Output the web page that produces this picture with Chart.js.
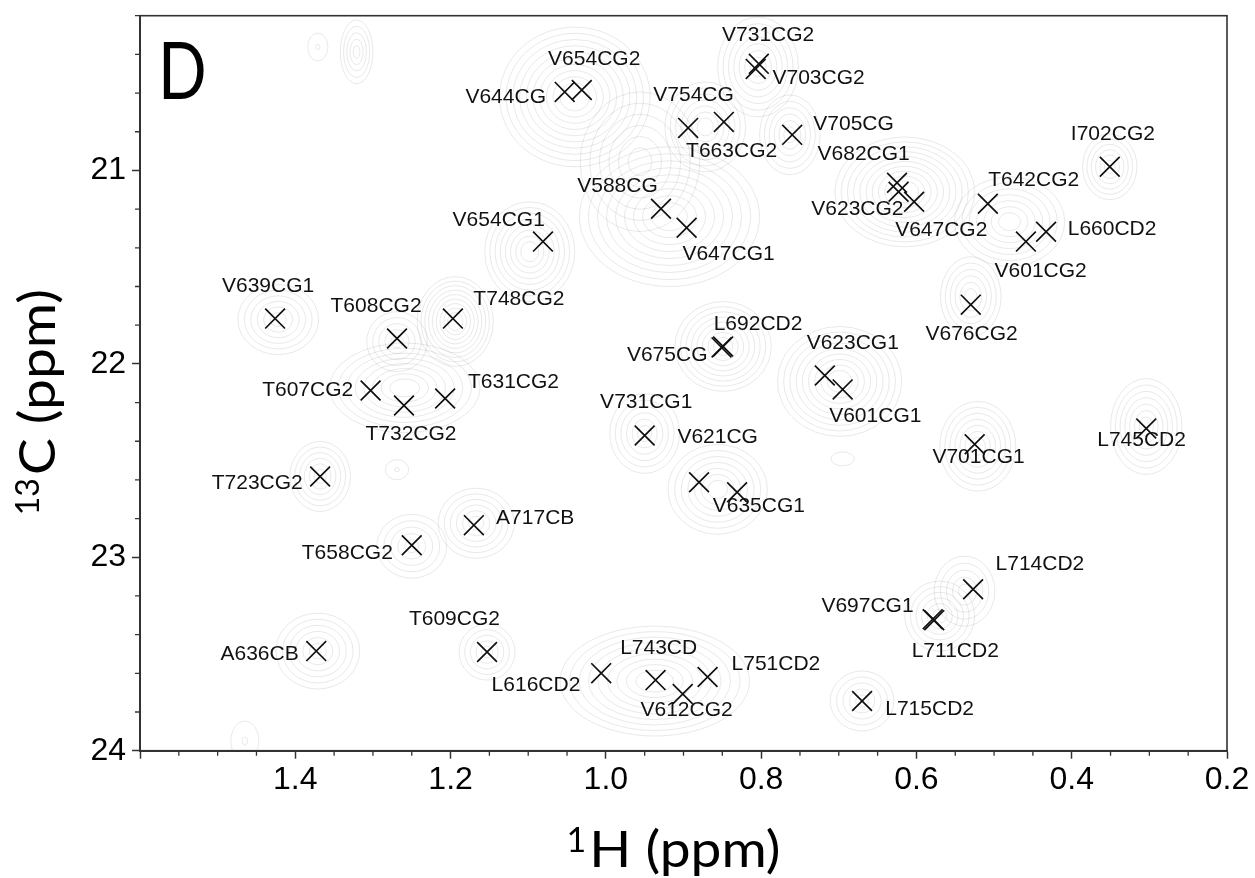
<!DOCTYPE html>
<html>
<head>
<meta charset="utf-8">
<script src="https://cdn.jsdelivr.net/npm/chart.js@4.4.1/dist/chart.umd.min.js"></script>
<style>
  html, body { margin: 0; padding: 0; background: #fff; }
  #wrap { width: 1255px; height: 878px; }
</style>
</head>
<body>
<div id="wrap"><canvas id="nmr" width="1255" height="878"></canvas></div>
<script>
// peak assignments, 1H / 13C shift of each cross (ppm)
const peakNames = ['V644CG', 'V654CG2', 'V731CG2', 'V703CG2', 'V754CG', 'T663CG2', 'V705CG', 'V682CG1', 'V623CG2', 'V647CG2',
  'V588CG', 'V647CG1', 'V654CG1', 'I702CG2', 'T642CG2', 'L660CD2', 'V601CG2', 'V676CG2', 'V639CG1', 'T608CG2',
  'T748CG2', 'T607CG2', 'T732CG2', 'T631CG2', 'T723CG2', 'A717CB', 'T658CG2', 'L692CD2', 'V675CG', 'V623CG1',
  'V601CG1', 'V731CG1', 'V621CG', 'V635CG1', 'L745CD2', 'V701CG1', 'L714CD2', 'A636CB', 'T609CG2', 'L616CD2',
  'L743CD', 'V612CG2', 'L751CD2', 'L715CD2', 'V697CG1', 'L711CD2'];
const peakH = [1.053, 1.031, 0.803, 0.807, 0.894, 0.848, 0.760, 0.625, 0.623, 0.603,
  0.929, 0.896, 1.081, 0.351, 0.508, 0.433, 0.459, 0.530, 1.426, 1.269,
  1.197, 1.303, 1.260, 1.207, 1.368, 1.170, 1.250, 0.849, 0.851, 0.718,
  0.695, 0.950, 0.880, 0.831, 0.304, 0.525, 0.527, 1.373, 1.153, 1.006,
  0.936, 0.901, 0.869, 0.670, 0.579, 0.577];
const peakC = [20.594, 20.584, 20.449, 20.475, 20.780, 20.749, 20.816, 21.064, 21.110, 21.162,
  21.198, 21.296, 21.368, 20.981, 21.172, 21.317, 21.368, 21.694, 21.766, 21.869,
  21.766, 22.138, 22.215, 22.179, 22.582, 22.834, 22.938, 21.910, 21.915, 22.060,
  22.132, 22.370, 22.612, 22.664, 22.334, 22.416, 23.165, 23.485, 23.490, 23.599,
  23.635, 23.707, 23.619, 23.743, 23.320, 23.325];
// where each assignment text sits (centre, ppm)
const nameH = [1.129, 1.015, 0.791, 0.726, 0.887, 0.838, 0.681, 0.668, 0.676, 0.568,
  0.985, 0.842, 1.138, 0.347, 0.449, 0.348, 0.440, 0.529, 1.435, 1.296,
  1.112, 1.384, 1.251, 1.119, 1.449, 1.091, 1.333, 0.804, 0.921, 0.682,
  0.653, 0.948, 0.856, 0.803, 0.310, 0.520, 0.441, 1.446, 1.195, 1.090,
  0.932, 0.896, 0.781, 0.583, 0.663, 0.550];
const nameC = [20.620, 20.424, 20.300, 20.522, 20.609, 20.899, 20.759, 20.914, 21.198, 21.311,
  21.079, 21.435, 21.255, 20.811, 21.053, 21.306, 21.523, 21.848, 21.601, 21.704,
  21.668, 22.138, 22.362, 22.096, 22.618, 22.798, 22.979, 21.797, 21.957, 21.895,
  22.271, 22.199, 22.377, 22.738, 22.397, 22.485, 23.037, 23.500, 23.320, 23.662,
  23.470, 23.791, 23.552, 23.784, 23.253, 23.485];

// contour islands of the spectrum: centre, half widths (ppm) and number of levels
const blobH = [1.321, 1.371, 1.040, 0.956, 0.804, 0.872, 0.763, 0.615, 0.480, 0.351,
  0.530, 0.918, 1.098, 1.422, 1.194, 1.269, 1.259, 1.368, 1.167, 1.250,
  0.849, 0.699, 0.950, 0.856, 0.521, 0.304, 0.538, 0.570, 1.371, 1.153,
  0.937, 0.670, 1.465, 0.695, 1.269];
const blobC = [20.387, 20.362, 20.620, 20.955, 20.465, 20.775, 20.816, 21.111, 21.265, 20.981,
  21.652, 21.239, 21.420, 21.771, 21.781, 21.885, 22.124, 22.582, 22.824, 22.943,
  21.910, 22.091, 22.360, 22.649, 22.426, 22.324, 23.175, 23.304, 23.485, 23.490,
  23.640, 23.743, 23.950, 22.491, 22.547];
const blobW = [0.021, 0.013, 0.097, 0.077, 0.052, 0.052, 0.039, 0.090, 0.071, 0.035,
  0.039, 0.116, 0.058, 0.052, 0.049, 0.039, 0.097, 0.039, 0.049, 0.045,
  0.062, 0.080, 0.045, 0.064, 0.049, 0.046, 0.039, 0.045, 0.054, 0.036,
  0.122, 0.041, 0.018, 0.015, 0.015];
const blobHt = [0.165, 0.072, 0.361, 0.361, 0.258, 0.232, 0.206, 0.284, 0.232, 0.170,
  0.206, 0.361, 0.258, 0.181, 0.232, 0.155, 0.232, 0.181, 0.181, 0.165,
  0.232, 0.284, 0.206, 0.232, 0.232, 0.248, 0.181, 0.181, 0.196, 0.145,
  0.284, 0.155, 0.103, 0.036, 0.052];
const blobLevels = [5, 2, 10, 6, 7, 7, 6, 10, 7, 6,
  6, 9, 8, 6, 9, 5, 8, 6, 6, 5,
  8, 9, 6, 7, 7, 7, 5, 6, 6, 5,
  9, 5, 2, 1, 2];

const xTicks = [0.2, 0.4, 0.6, 0.8, 1.0, 1.2, 1.4, 1.6];
const yTicks = [21, 22, 23, 24];
const xMinor = [0.25, 0.3, 0.35, 0.45, 0.5, 0.55, 0.65, 0.7, 0.75, 0.85, 0.9, 0.95, 1.05, 1.1, 1.15, 1.25, 1.3, 1.35, 1.45, 1.5, 1.55];
const yMinor = [20.2, 20.4, 20.6, 20.8, 21.2, 21.4, 21.6, 21.8, 22.2, 22.4, 22.6, 22.8, 23.2, 23.4, 23.6, 23.8];

const AX = '#333';
const TICK_FONT = { family: '"Liberation Sans", Arial, sans-serif', size: 32 };

const contours = {
  id: 'contours',
  beforeDatasetsDraw(chart) {
    const { ctx, chartArea: a, scales: { x, y } } = chart;
    ctx.save();
    ctx.beginPath();
    ctx.rect(a.left, a.top, a.right - a.left, a.bottom - a.top);
    ctx.clip();
    ctx.strokeStyle = 'rgba(120,120,120,0.24)';
    ctx.lineWidth = 0.7;
    blobH.forEach((h, i) => {
      const cx = x.getPixelForValue(h);
      const cy = y.getPixelForValue(blobC[i]);
      const rx = Math.abs(x.getPixelForValue(h + blobW[i]) - cx);
      const ry = Math.abs(y.getPixelForValue(blobC[i] + blobHt[i]) - cy);
      const n = blobLevels[i];
      for (let k = 1; k <= n; k++) {
        const f = n === 1 ? 1 : 0.2 + 0.8 * (k - 1) / (n - 1);
        ctx.beginPath();
        ctx.ellipse(cx, cy, rx * f, ry * f, 0, 0, Math.PI * 2);
        ctx.stroke();
      }
    });
    ctx.restore();
  }
};

// draws text with a leading superscript; rotated for the y title
function supText(ctx, sup, main, supSize, mainSize, raise, squeeze) {
  ctx.font = supSize + 'px Lato, "Open Sans", sans-serif';
  const sw = ctx.measureText(sup).width;
  ctx.font = mainSize + 'px Lato, "Open Sans", sans-serif';
  const mw = ctx.measureText(main).width * squeeze;
  let left = -(sw + 3 + mw) / 2;
  ctx.font = supSize + 'px Lato, "Open Sans", sans-serif';
  ctx.fillText(sup, left, -raise);
  ctx.font = mainSize + 'px Lato, "Open Sans", sans-serif';
  ctx.save();
  ctx.translate(left + sw + 3, 0);
  ctx.scale(squeeze, 1);
  ctx.fillText(main, 0, 0);
  ctx.restore();
}

const decorations = {
  id: 'decorations',
  afterDatasetsDraw(chart) {
    const { ctx, scales: { x, y } } = chart;
    ctx.save();
    // assignment texts
    ctx.fillStyle = '#111';
    ctx.font = '21px "Liberation Sans", Arial, sans-serif';
    ctx.textAlign = 'center';
    ctx.textBaseline = 'middle';
    peakNames.forEach((n, i) => {
      ctx.fillText(n, x.getPixelForValue(nameH[i]), y.getPixelForValue(nameC[i]));
    });
    ctx.restore();
  },
  afterDraw(chart) {
    const { ctx, chartArea: a, scales: { x, y } } = chart;
    ctx.save();
    ctx.strokeStyle = AX;
    ctx.lineWidth = 1.6;
    ctx.strokeRect(a.left, a.top, a.right - a.left, a.bottom - a.top);
    // minor ticks
    ctx.lineWidth = 1.3;
    ctx.beginPath();
    xMinor.forEach(v => {
      const px = x.getPixelForValue(v);
      ctx.moveTo(px, a.bottom);
      ctx.lineTo(px, a.bottom + 5);
    });
    yMinor.forEach(v => {
      const py = y.getPixelForValue(v);
      ctx.moveTo(a.left, py);
      ctx.lineTo(a.left - 5, py);
    });
    ctx.stroke();

    ctx.fillStyle = '#000';
    ctx.textBaseline = 'alphabetic';
    ctx.textAlign = 'left';
    // panel letter
    ctx.save();
    ctx.translate(a.left + 18, a.top + 83);
    ctx.scale(0.8, 1);
    ctx.font = '80px Lato, "Open Sans", sans-serif';
    ctx.fillText('D', 0, 0);
    ctx.restore();
    // x title
    ctx.save();
    ctx.translate((a.left + a.right) / 2 - 10, a.bottom + 116);
    supText(ctx, '1', 'H (ppm)', 34, 51, 15, 1.08);
    ctx.restore();
    // y title
    ctx.save();
    ctx.translate(a.left - 85, (a.top + a.bottom) / 2 + 19);
    ctx.rotate(-Math.PI / 2);
    supText(ctx, '13', 'C (ppm)', 32, 51, 16, 1.08);
    ctx.restore();
    ctx.restore();
  }
};

const chart = new Chart(document.getElementById('nmr'), {
  type: 'scatter',
  data: {
    datasets: [{
      label: 'peaks',
      data: peakH.map((h, i) => ({ x: h, y: peakC[i] })),
      pointStyle: 'crossRot',
      pointRadius: 14,
      pointHoverRadius: 14,
      borderColor: '#111',
      borderWidth: 1.7,
      backgroundColor: '#111'
    }]
  },
  options: {
    responsive: false,
    animation: false,
    devicePixelRatio: 1,
    layout: { padding: { left: 0, top: 14, right: 28, bottom: 0 } },
    plugins: { legend: { display: false }, tooltip: { enabled: false } },
    events: [],
    scales: {
      x: {
        type: 'linear',
        min: 0.2,
        max: 1.6,
        reverse: true,
        position: 'bottom',
        afterBuildTicks: s => { s.ticks = xTicks.map(v => ({ value: v })); },
        afterFit: s => { s.height = 127.3; s.paddingLeft = 0; s.paddingRight = 0; },
        grid: { drawOnChartArea: false, tickLength: 8, color: AX, tickWidth: 1.5 },
        border: { color: AX, width: 2 },
        ticks: {
          color: '#000',
          font: TICK_FONT,
          padding: 2,
          maxRotation: 0,
          callback: v => (v === 1.6 ? '' : v.toFixed(1))
        }
      },
      y: {
        type: 'linear',
        min: 20.2,
        max: 24,
        reverse: true,
        afterBuildTicks: s => { s.ticks = yTicks.map(v => ({ value: v })); },
        afterFit: s => { s.width = 140; s.paddingTop = 0; s.paddingBottom = 0; },
        grid: { drawOnChartArea: false, tickLength: 8, color: AX, tickWidth: 1.5 },
        border: { color: AX, width: 2 },
        ticks: { color: '#000', font: TICK_FONT, padding: 6, callback: v => String(v) }
      }
    }
  },
  plugins: [contours, decorations]
});
</script>
</body>
</html>
